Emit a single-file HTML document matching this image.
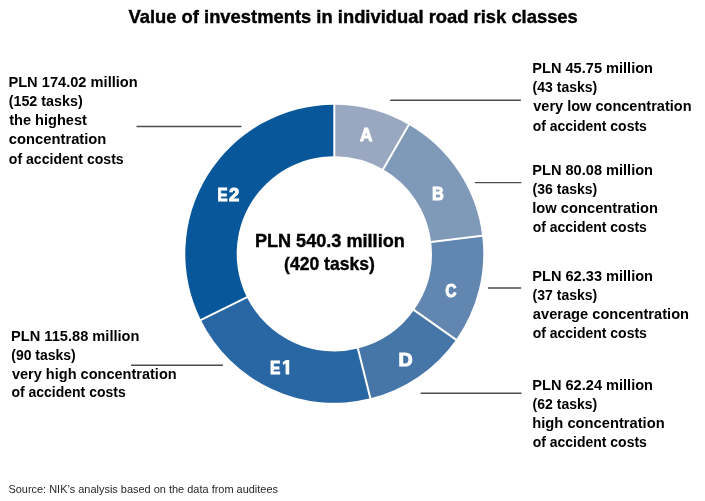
<!DOCTYPE html>
<html><head><meta charset="utf-8"><style>
html,body{margin:0;padding:0;background:#fff;}
svg{display:block;will-change:transform;font-family:"Liberation Sans", sans-serif;}
</style></head><body>
<svg width="705" height="501" viewBox="0 0 705 501">
<rect width="705" height="501" fill="#fff"/>
<path d="M334.30,104.80 A149.0,149.0 0 0 1 408.80,124.76 L383.10,169.28 A97.6,97.6 0 0 0 334.30,156.20 Z" fill="#9aa7c0"/>
<path d="M408.80,124.76 A149.0,149.0 0 0 1 482.19,235.64 L431.17,241.91 A97.6,97.6 0 0 0 383.10,169.28 Z" fill="#7f99b8"/>
<path d="M482.19,235.64 A149.0,149.0 0 0 1 456.05,339.69 L414.05,310.06 A97.6,97.6 0 0 0 431.17,241.91 Z" fill="#6186b0"/>
<path d="M456.05,339.69 A149.0,149.0 0 0 1 370.35,398.37 L357.91,348.50 A97.6,97.6 0 0 0 414.05,310.06 Z" fill="#4676a8"/>
<path d="M370.35,398.37 A149.0,149.0 0 0 1 200.84,320.05 L246.88,297.20 A97.6,97.6 0 0 0 357.91,348.50 Z" fill="#2866a4"/>
<path d="M200.84,320.05 A149.0,149.0 0 0 1 334.30,104.80 L334.30,156.20 A97.6,97.6 0 0 0 246.88,297.20 Z" fill="#08579a"/>
<line x1="334.30" y1="158.20" x2="334.30" y2="102.80" stroke="#fff" stroke-width="2"/>
<line x1="382.10" y1="171.01" x2="409.80" y2="123.03" stroke="#fff" stroke-width="2"/>
<line x1="429.19" y1="242.15" x2="484.17" y2="235.40" stroke="#fff" stroke-width="2"/>
<line x1="412.42" y1="308.91" x2="457.69" y2="340.84" stroke="#fff" stroke-width="2"/>
<line x1="357.43" y1="346.56" x2="370.83" y2="400.31" stroke="#fff" stroke-width="2"/>
<line x1="248.67" y1="296.31" x2="199.05" y2="320.94" stroke="#fff" stroke-width="2"/>
<line x1="136.5" y1="126.5" x2="241.5" y2="126.5" stroke="#4d4d4d" stroke-width="1.4"/>
<line x1="390.2" y1="100.2" x2="520.9" y2="100.2" stroke="#4d4d4d" stroke-width="1.4"/>
<line x1="474.9" y1="182.6" x2="521.4" y2="182.6" stroke="#4d4d4d" stroke-width="1.4"/>
<line x1="488" y1="288" x2="521.2" y2="288" stroke="#4d4d4d" stroke-width="1.4"/>
<line x1="420.6" y1="393.3" x2="521.5" y2="393.3" stroke="#4d4d4d" stroke-width="1.4"/>
<line x1="131" y1="365.3" x2="223" y2="365.3" stroke="#4d4d4d" stroke-width="1.4"/>
<text transform="translate(128.47,22.60) scale(0.9674,1)" font-size="19.0" font-weight="bold" fill="#000" stroke="#000" stroke-width="0.4">Value of investments in individual road risk classes</text>
<text transform="translate(8.42,87.00) scale(0.9508,1)" font-size="15.4" font-weight="bold" fill="#000">PLN 174.02 million</text>
<text transform="translate(8.69,106.15) scale(0.9298,1)" font-size="15.4" font-weight="bold" fill="#000">(152 tasks)</text>
<text transform="translate(9.22,125.30) scale(0.9467,1)" font-size="15.4" font-weight="bold" fill="#000">the highest</text>
<text transform="translate(8.82,144.45) scale(0.9585,1)" font-size="15.4" font-weight="bold" fill="#000">concentration</text>
<text transform="translate(8.85,163.60) scale(0.9136,1)" font-size="15.4" font-weight="bold" fill="#000">of accident costs</text>
<text transform="translate(11.02,340.90) scale(0.9501,1)" font-size="15.4" font-weight="bold" fill="#000">PLN 115.88 million</text>
<text transform="translate(11.30,359.70) scale(0.9077,1)" font-size="15.4" font-weight="bold" fill="#000">(90 tasks)</text>
<text transform="translate(11.94,378.50) scale(0.9438,1)" font-size="15.4" font-weight="bold" fill="#000">very high concentration</text>
<text transform="translate(11.45,397.30) scale(0.9087,1)" font-size="15.4" font-weight="bold" fill="#000">of accident costs</text>
<text transform="translate(532.32,72.90) scale(0.9472,1)" font-size="15.4" font-weight="bold" fill="#000">PLN 45.75 million</text>
<text transform="translate(532.60,92.10) scale(0.9106,1)" font-size="15.4" font-weight="bold" fill="#000">(43 tasks)</text>
<text transform="translate(533.24,111.30) scale(0.9441,1)" font-size="15.4" font-weight="bold" fill="#000">very low concentration</text>
<text transform="translate(532.75,130.50) scale(0.9079,1)" font-size="15.4" font-weight="bold" fill="#000">of accident costs</text>
<text transform="translate(532.32,174.85) scale(0.9472,1)" font-size="15.4" font-weight="bold" fill="#000">PLN 80.08 million</text>
<text transform="translate(532.60,194.05) scale(0.9106,1)" font-size="15.4" font-weight="bold" fill="#000">(36 tasks)</text>
<text transform="translate(532.27,213.25) scale(0.9550,1)" font-size="15.4" font-weight="bold" fill="#000">low concentration</text>
<text transform="translate(532.75,232.45) scale(0.9079,1)" font-size="15.4" font-weight="bold" fill="#000">of accident costs</text>
<text transform="translate(532.32,280.90) scale(0.9472,1)" font-size="15.4" font-weight="bold" fill="#000">PLN 62.33 million</text>
<text transform="translate(532.60,299.85) scale(0.9106,1)" font-size="15.4" font-weight="bold" fill="#000">(37 tasks)</text>
<text transform="translate(532.87,318.80) scale(0.9508,1)" font-size="15.4" font-weight="bold" fill="#000">average concentration</text>
<text transform="translate(532.75,337.75) scale(0.9079,1)" font-size="15.4" font-weight="bold" fill="#000">of accident costs</text>
<text transform="translate(532.32,389.50) scale(0.9472,1)" font-size="15.4" font-weight="bold" fill="#000">PLN 62.24 million</text>
<text transform="translate(532.60,408.75) scale(0.9106,1)" font-size="15.4" font-weight="bold" fill="#000">(62 tasks)</text>
<text transform="translate(532.27,428.00) scale(0.9563,1)" font-size="15.4" font-weight="bold" fill="#000">high concentration</text>
<text transform="translate(532.75,447.25) scale(0.9079,1)" font-size="15.4" font-weight="bold" fill="#000">of accident costs</text>
<text transform="translate(254.88,246.60) scale(0.9538,1)" font-size="19.0" font-weight="bold" fill="#000" stroke="#000" stroke-width="0.4">PLN 540.3 million</text>
<text transform="translate(284.11,270.40) scale(0.9242,1)" font-size="19.0" font-weight="bold" fill="#000" stroke="#000" stroke-width="0.4">(420 tasks)</text>
<text transform="translate(360.02,141.10) scale(0.9093,1)" font-size="19.0" font-weight="bold" fill="#fff" stroke="#fff" stroke-width="1.0">A</text>
<text transform="translate(432.09,200.00) scale(0.8620,1)" font-size="19.0" font-weight="bold" fill="#fff" stroke="#fff" stroke-width="1.0">B</text>
<text transform="translate(445.27,296.50) scale(0.8195,1)" font-size="19.0" font-weight="bold" fill="#fff" stroke="#fff" stroke-width="1.0">C</text>
<text transform="translate(398.50,365.50) scale(1.0354,1)" font-size="19.0" font-weight="bold" fill="#fff" stroke="#fff" stroke-width="1.0">D</text>
<text transform="translate(270.07,374.10) scale(0.8148,1)" font-size="19.0" font-weight="bold" fill="#fff" stroke="#fff" stroke-width="1.0">E</text>
<path d="M285.6,374.6 L289.2,374.6 L289.2,360.1 L286.0,360.1 L282.6,362.2 L283.2,364.9 L285.6,363.6 Z" fill="#fff"/>
<text transform="translate(217.59,201.00) scale(0.7976,1)" font-size="19.0" font-weight="bold" fill="#fff" stroke="#fff" stroke-width="1.0">E</text>
<text transform="translate(228.95,201.00) scale(0.9756,1)" font-size="19.0" font-weight="bold" fill="#fff" stroke="#fff" stroke-width="1.0">2</text>
<text transform="translate(8.40,492.80) scale(1.0152,1)" font-size="10.8" fill="#262626">Source: NIK’s analysis based on the data from auditees</text>
</svg>
</body></html>
